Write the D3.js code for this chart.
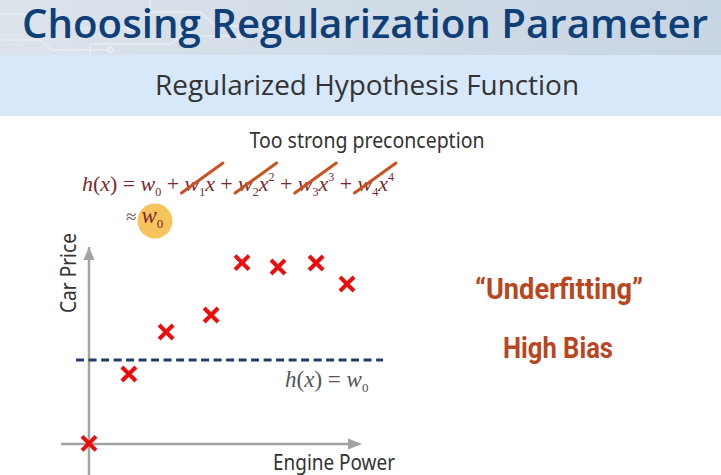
<!DOCTYPE html>
<html>
<head>
<meta charset="utf-8">
<script src="https://cdn.jsdelivr.net/npm/d3@7.9.0/dist/d3.min.js"></script>
<style>
  html, body { margin: 0; padding: 0; background: #fff; }
  svg { display: block; }
</style>
</head>
<body>
<div id="viz"></div>
<script>
// slide texts
const titleText = "Choosing Regularization Parameter";
const subtitleText = "Regularized Hypothesis Function";
const captionText = "Too strong preconception";
const xLabel = "Engine Power";
const yLabel = "Car Price";
const verdictLines = ["\u201cUnderfitting\u201d", "High Bias"];

// data points (engine power, car price) in arbitrary units
const enginePower = [0, 1.33, 2.57, 4.07, 5.1, 6.3, 7.57, 8.6];
const carPrice = [0.03, 3.5, 5.6, 6.45, 9.07, 8.85, 9.05, 8.0];
const w0Level = 4.2; // the flat hypothesis h(x) = w0

// polynomial terms that get crossed out
const polyPowers = [1, 2, 3, 4];

const width = 721;
const height = 475;

const svg = d3.select("#viz")
  .append("svg")
  .attr("width", width)
  .attr("height", height);

const defs = svg.append("defs");
const grad = defs.append("linearGradient").attr("id", "hdr").attr("x1", 0).attr("x2", 1);
grad.append("stop").attr("offset", "0%").attr("stop-color", "#dce3eb");
grad.append("stop").attr("offset", "100%").attr("stop-color", "#c8d5e2");

// header band
svg.append("rect").attr("x", 0).attr("y", 0).attr("width", width).attr("height", 55)
  .attr("fill", "url(#hdr)");

// faint circuit decoration on the left of the header
const circuit = svg.append("g").attr("stroke", "#e8edf2").attr("fill", "none").attr("stroke-width", 1.5);
[[0, 14, 60, 14, 75, 28, 130, 28], [0, 40, 40, 40, 52, 50, 110, 50], [150, 0, 150, 12, 200, 12, 215, 26, 280, 26],
 [90, 55, 90, 44, 170, 44, 182, 36, 240, 36]].forEach(p => {
  const pts = d3.range(0, p.length, 2).map(i => [p[i], p[i + 1]]);
  circuit.append("path").attr("d", d3.line()(pts));
  circuit.append("circle").attr("cx", pts[pts.length - 1][0]).attr("cy", pts[pts.length - 1][1]).attr("r", 2.5);
});

svg.append("text")
  .attr("x", 22).attr("y", 38)
  .attr("textLength", 686).attr("lengthAdjust", "spacingAndGlyphs")
  .attr("font-family", "Open Sans, Noto Sans, sans-serif")
  .attr("font-weight", 600)
  .attr("font-size", 39)
  .attr("fill", "#0e3f78")
  .text(titleText);

// subtitle band
svg.append("rect").attr("x", 0).attr("y", 55).attr("width", width).attr("height", 61)
  .attr("fill", "#d6e8fa");

svg.append("text")
  .attr("x", 367).attr("y", 95)
  .attr("text-anchor", "middle")
  .attr("textLength", 424).attr("lengthAdjust", "spacingAndGlyphs")
  .attr("font-family", "Open Sans, Noto Sans, sans-serif")
  .attr("font-weight", 500)
  .attr("font-size", 28)
  .attr("fill", "#333")
  .text(subtitleText);

svg.append("text")
  .attr("x", 367).attr("y", 148)
  .attr("text-anchor", "middle")
  .attr("textLength", 235).attr("lengthAdjust", "spacingAndGlyphs")
  .attr("font-family", "Noto Sans, sans-serif")
  .attr("font-size", 21)
  .attr("fill", "#333")
  .text(captionText);

// ---- formula h(x) = w0 + w1x + w2x^2 + w3x^3 + w4x^4 ----
const formulaColor = "#7a2a2e";
const strikeColor = "#c9521f";
const fs = 22;
const pieces = [
  { t: "h", it: true }, { t: "(" }, { t: "x", it: true }, { t: ")" }, { t: "=", op: true },
  { t: "w", it: true }, { t: "0", sub: true }
];
polyPowers.forEach(k => {
  pieces.push({ t: "+", op: true });
  pieces.push({ t: "w", it: true, start: k });
  pieces.push({ t: String(k), sub: true });
  pieces.push({ t: "x", it: true, end: k });
  if (k > 1) pieces.push({ t: String(k), sup: true });
});

const formulaX = 82, formulaW = 312, baseY = 191;
const formula = svg.append("g");
const nodes = pieces.map(p => {
  const size = (p.sub || p.sup) ? fs * 0.55 : fs;
  const t = formula.append("text")
    .attr("y", baseY + (p.sub ? 5 : p.sup ? -10 : 0))
    .attr("font-family", "Liberation Serif, Times New Roman, serif")
    .attr("font-style", p.it ? "italic" : "normal")
    .attr("font-size", size)
    .attr("fill", formulaColor)
    .text(p.t);
  return { p, t, w: t.node().getComputedTextLength() };
});
const natural = d3.sum(nodes, d => d.w);
const nOps = pieces.filter(p => p.op).length;
const gap = Math.max(1, (formulaW - natural) / (2 * nOps));
const spans = {};
let cursor = formulaX;
nodes.forEach(({ p, t, w }) => {
  if (p.op) cursor += gap;
  t.attr("x", cursor);
  if (p.start) spans[p.start] = { x0: cursor };
  if (p.end) spans[p.end].x1 = cursor + w;
  cursor += w;
  if (p.op) cursor += gap;
});

// strike-through slashes over w_k x^k
polyPowers.forEach(k => {
  const s = spans[k];
  svg.append("line")
    .attr("x1", s.x0 - 3).attr("y1", baseY + 2)
    .attr("x2", s.x1 + 8).attr("y2", baseY - 28)
    .attr("stroke", strikeColor)
    .attr("stroke-width", 3)
    .attr("stroke-linecap", "round");
});

// ≈ w0 with highlight
svg.append("circle").attr("cx", 155).attr("cy", 221).attr("r", 17.5).attr("fill", "#f6c45c");
const approx = svg.append("text")
  .attr("x", 126).attr("y", 223)
  .attr("font-family", "Liberation Serif, Times New Roman, serif")
  .attr("font-size", 23)
  .attr("fill", formulaColor);
approx.append("tspan").attr("fill", "#7a4a4a").attr("font-size", 19).text("\u2248");
approx.append("tspan").attr("dx", 5).attr("font-style", "italic").text("w");
approx.append("tspan").attr("font-size", 13).attr("dy", 5).text("0");

// ---- scatter plot ----
const x = d3.scaleLinear().domain([0, 10]).range([89, 389]);
const y = d3.scaleLinear().domain([0, 10]).range([444, 244]);
const axisColor = "#a3a3a3";

const axes = svg.append("g");
axes.append("line")
  .attr("x1", x(0)).attr("x2", x(0))
  .attr("y1", height).attr("y2", y(9.85))
  .attr("stroke", axisColor).attr("stroke-width", 2.5);
axes.append("path")
  .attr("d", `M${x(0)},${y(10.0) + 3} l-5.5,13 l11,0 z`)
  .attr("fill", axisColor);
axes.append("line")
  .attr("x1", x(-0.93)).attr("x2", x(9.0))
  .attr("y1", y(0)).attr("y2", y(0))
  .attr("stroke", axisColor).attr("stroke-width", 2.5);
axes.append("path")
  .attr("d", `M${x(9.1)},${y(0)} l-14,-5.5 l0,11 z`)
  .attr("fill", axisColor);

svg.append("text")
  .attr("transform", `translate(76,273) rotate(-90)`)
  .attr("text-anchor", "middle")
  .attr("textLength", 80).attr("lengthAdjust", "spacingAndGlyphs")
  .attr("font-family", "Noto Sans, sans-serif")
  .attr("font-size", 21)
  .attr("fill", "#333")
  .text(yLabel);

svg.append("text")
  .attr("x", 273).attr("y", 470)
  .attr("textLength", 122).attr("lengthAdjust", "spacingAndGlyphs")
  .attr("font-family", "Noto Sans, sans-serif")
  .attr("font-size", 21)
  .attr("fill", "#333")
  .text(xLabel);

// h(x) = w0 dashed line
svg.append("line")
  .attr("x1", x(-0.43)).attr("x2", x(9.8))
  .attr("y1", y(w0Level)).attr("y2", y(w0Level))
  .attr("stroke", "#1f3d6d")
  .attr("stroke-width", 3)
  .attr("stroke-dasharray", "8,4.5");

const hLabel = svg.append("text")
  .attr("x", 285).attr("y", 387)
  .attr("font-family", "Liberation Serif, Times New Roman, serif")
  .attr("font-size", 23)
  .attr("fill", "#555");
hLabel.append("tspan").attr("font-style", "italic").text("h");
hLabel.append("tspan").text("(");
hLabel.append("tspan").attr("font-style", "italic").text("x");
hLabel.append("tspan").text(") = ");
hLabel.append("tspan").attr("font-style", "italic").text("w");
hLabel.append("tspan").attr("font-size", 13).attr("dy", 5).text("0");

// red X markers
const pts = enginePower.map((e, i) => ({ e, p: carPrice[i] }));
const arm = 7;
svg.append("g").selectAll("path")
  .data(pts)
  .join("path")
  .attr("d", d => {
    const cx = x(d.e), cy = y(d.p);
    return `M${cx - arm},${cy - arm}L${cx + arm},${cy + arm}M${cx - arm},${cy + arm}L${cx + arm},${cy - arm}`;
  })
  .attr("stroke", "#ec0d0d")
  .attr("stroke-width", 4)
  .attr("fill", "none");

// verdict text
svg.append("text")
  .attr("x", 559).attr("y", 299)
  .attr("text-anchor", "middle")
  .attr("textLength", 168).attr("lengthAdjust", "spacingAndGlyphs")
  .attr("font-family", "Roboto, sans-serif")
  .attr("font-weight", "bold")
  .attr("font-size", 29)
  .attr("fill", "#b8461f")
  .text(verdictLines[0]);

svg.append("text")
  .attr("x", 558).attr("y", 358)
  .attr("text-anchor", "middle")
  .attr("textLength", 110).attr("lengthAdjust", "spacingAndGlyphs")
  .attr("font-family", "Roboto, sans-serif")
  .attr("font-weight", "bold")
  .attr("font-size", 29)
  .attr("fill", "#b8461f")
  .text(verdictLines[1]);
</script>
</body>
</html>
